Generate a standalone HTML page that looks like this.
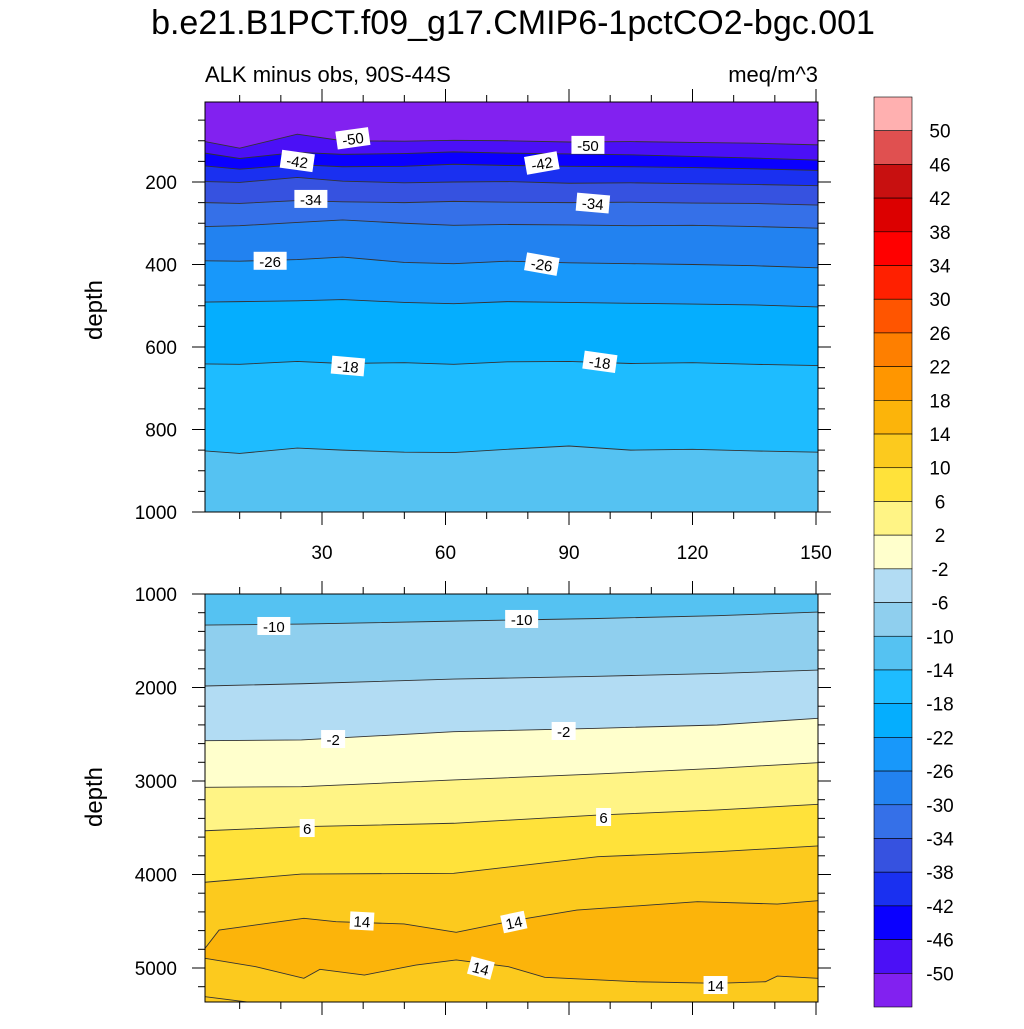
<!DOCTYPE html>
<html><head><meta charset="utf-8"><style>
html,body{margin:0;padding:0;background:#fff;}
svg text{font-family:"Liberation Sans",sans-serif;}
</style></head><body>
<svg id="chart" width="1024" height="1024" viewBox="0 0 1024 1024" xmlns="http://www.w3.org/2000/svg">
<text x="513" y="34" text-anchor="middle" font-size="34">b.e21.B1PCT.f09_g17.CMIP6-1pctCO2-bgc.001</text>
<text x="205" y="82" font-size="22">ALK minus obs, 90S-44S</text>
<text x="818" y="82" font-size="22" text-anchor="end">meq/m^3</text>
<text transform="translate(102,310) rotate(-90)" text-anchor="middle" font-size="24">depth</text>
<text transform="translate(102,797) rotate(-90)" text-anchor="middle" font-size="24">depth</text>
<g id="top"></g>
<g id="bot"></g>
<g id="cbar"></g>
</svg>
<script>
// ---- data ----
const levels = [-50,-46,-42,-38,-34,-30,-26,-22,-18,-14,-10,-6,-2,2,6,10,14,18,22,26,30,34,38,42,46,50];
const colors = ["#8221f0","#4b10f6","#0a00ff","#1a30f0","#3652e0","#3570e8","#2282f0","#1898fa","#05aefe","#1ebcff","#55c2f2","#8fcfee","#b2dcf3","#ffffcc","#fff485","#ffe23a","#fcca1e","#fcb40a","#ff9600","#fe7f00","#ff5500","#ff2000","#ff0000","#dc0000","#c81010","#e05050","#ffb0b0"];
const xTicks = [30,60,90,120,150];
const topYTicks = [200,400,600,800,1000];
const botYTicks = [1000,2000,3000,4000,5000];
// top panel contour lines: years and depths
const topYears = [1.5,10,24,35,50,62,75,90,105,120,135,150.5];
const topLines = [
 {lev:-50, d:[102,118,84,100,101,99,100,103,102,104,106,110]},
 {lev:-46, d:[130,143,128,133,131,127,130,132,134,138,142,147]},
 {lev:-42, d:[161,169,158,163,162,157,160,162,163,165,168,172]},
 {lev:-38, d:[199,201,189,198,202,200,199,203,202,204,206,209]},
 {lev:-34, d:[250,252,245,248,250,247,249,250,249,251,252,256]},
 {lev:-30, d:[308,306,298,292,300,305,303,304,306,305,308,312]},
 {lev:-26, d:[391,392,388,382,395,398,392,396,398,400,403,408]},
 {lev:-22, d:[491,490,488,485,492,495,490,492,494,496,498,503]},
 {lev:-18, d:[641,642,635,640,638,642,636,635,640,638,642,645]},
 {lev:-14, d:[852,858,845,850,855,856,848,840,850,848,852,855]}
];
// bottom panel contour lines
const botYears = [1.5,25,62,97,126,150.5];
const botLines = [
 {lev:-10, d:[1332,1322,1290,1262,1232,1193]},
 {lev:-6, d:[1984,1960,1910,1880,1850,1813]},
 {lev:-2, d:[2569,2561,2473,2436,2401,2329]},
 {lev:2, d:[3067,3061,2989,2925,2864,2804]},
 {lev:6, d:[3532,3489,3452,3364,3310,3249]},
 {lev:10, d:[4083,3995,3987,3810,3756,3695]}
];
const blobUpYears = [1.5,5,25.6,33.4,49.9,62.6,77.3,91.9,121.2,140.6,150.5];
const blobUpDepth = [4790,4594,4469,4505,4529,4618,4487,4380,4291,4316,4280];
const blobLoYears = [1.5,13.9,25.6,29.5,40.3,52.8,62.6,75.3,84.1,106.5,126,137.7,140.6,150.5];
const blobLoDepth = [4896,4986,5110,5014,5075,4968,4914,4986,5100,5147,5164,5147,5086,5110];
const tailYears = [1.5,13.9];
const tailDepth = [5307,5375];
const topLabels = [[37.5,94,"-50",-8],[94.6,110,"-50",0],[24,149,"-42",8],[83.4,154,"-42",-10],[27.3,241,"-34",0],[95.8,251,"-34",5],[17.4,391,"-26",0],[83.4,399,"-26",10],[36.3,646,"-18",5],[97.5,636,"-18",8]];
const botLabels = [[18.3,1342,"-10",0],[78.5,1267,"-10",0],[32.7,2551,"-2",0],[88.7,2465,"-2",0],[26.4,3503,"6",0],[98.4,3385,"6",0],[39.7,4497,"14",3],[76.6,4508,"14",-12],[68.6,5000,"14",15],[125.6,5182,"14",0]];

// ---- axes ----
const NS="http://www.w3.org/2000/svg";
const X0=205,X1=818;
const xs = yr => 322 + (yr-30)*(816-322)/120;
const ysTop = d => 182 + (d-200)*(512-182)/800;
const ysBot = d => 594 + (d-1000)*(968-594)/4000;
function mk(tag,attrs,parent){const e=document.createElementNS(NS,tag);for(const k in attrs)e.setAttribute(k,attrs[k]);parent.appendChild(e);return e;}
function colorFor(lev){return colors[levels.indexOf(lev)+1];}
function linePts(years,d,ys){return years.map((y,i)=>[Math.max(X0,Math.min(X1,xs(y))),ys(d[i])]);}

function panel(g,Ytop,Ybot,ys,lines,years,baseColor){
  const clipId=g.id+"-clip";
  const cp=mk("clipPath",{id:clipId},g);mk("rect",{x:X0,y:Ytop,width:X1-X0,height:Ybot-Ytop},cp);
  const fills=mk("g",{"clip-path":"url(#"+clipId+")"},g);
  
  
  const bg=mk("rect",{x:X0,y:Ytop,width:X1-X0,height:Ybot-Ytop,fill:baseColor},fills);
  
  
  lines.forEach(L=>{
    const p=linePts(years,L.d,ys);
    const pts=[[X0,p[0][1]],...p,[X1,p[p.length-1][1]],[X1,Ybot+5],[X0,Ybot+5]];
    const poly=mk("polygon",{points:pts.map(q=>q.join(",")).join(" "),fill:colorFor(L.lev)},fills);
    
    
  });
  return {fills,clipId};
}
function drawLine(parent,years,d,ys){
  const p=linePts(years,d,ys);
  const l=mk("polyline",{points:p.map(q=>q.join(",")).join(" "),fill:"none",stroke:"#333","stroke-width":"0.9"},parent);
  
  
}
function drawLabels(parent,labels,ys){
  labels.forEach(L=>{
    const g=mk("g",{transform:`translate(${xs(L[0])},${ys(L[1])}) rotate(${L[3]})`},parent);
    
    
    const w=L[2].length*9+6;
    mk("rect",{x:-w/2,y:-9,width:w,height:18,fill:"#fff"},g);
    const t=mk("text",{x:0,y:6,"text-anchor":"middle","font-size":"15"},g);t.textContent=L[2];
  });
}
function frame(g,Ytop,Ybot,ys,yTicks,minorStep,dmin,dmax,showXLabels){
  mk("rect",{x:X0,y:Ytop,width:X1-X0,height:Ybot-Ytop,fill:"none",stroke:"#000","stroke-width":"1"},g);
  for(let v=10;v<=150;v+=10){
    const x=xs(v),maj=v%30===0,len=maj?13:7;
    mk("line",{x1:x,x2:x,y1:Ytop,y2:Ytop-len,stroke:"#000"},g);
    mk("line",{x1:x,x2:x,y1:Ybot,y2:Ybot+len,stroke:"#000"},g);
  }
  for(let d=Math.ceil(dmin/minorStep)*minorStep;d<=dmax;d+=minorStep){
    const y=ys(d);if(y<Ytop-0.5||y>Ybot+0.5)continue;
    const maj=yTicks.includes(d),len=maj?13:7;
    mk("line",{x1:X0,x2:X0-len,y1:y,y2:y,stroke:"#000"},g);
    mk("line",{x1:X1,x2:X1+len,y1:y,y2:y,stroke:"#000"},g);
  }
  yTicks.forEach(d=>{const t=mk("text",{x:X0-28,y:ys(d)+7,"text-anchor":"end","font-size":"19"},g);t.textContent=d;
    });
  if(showXLabels) xTicks.forEach(v=>{const t=mk("text",{x:xs(v),y:559,"text-anchor":"middle","font-size":"19"},g);t.textContent=v;
    });
}
// top panel
const gt=document.getElementById("top");
const tp=panel(gt,102,512,ysTop,topLines,topYears,colors[0]);
topLines.forEach(L=>drawLine(tp.fills,topYears,L.d,ysTop));
drawLabels(tp.fills,topLabels,ysTop);
frame(gt,102,512,ysTop,topYTicks,50,0,1000,true);
// bottom panel
const gb=document.getElementById("bot");
const bp=panel(gb,594,1002,ysBot,botLines,botYears,colorFor(-14));
const bu=linePts(blobUpYears,blobUpDepth,ysBot), bl=linePts(blobLoYears,blobLoDepth,ysBot);
const blob=mk("polygon",{points:[...bu,[X1,bu[bu.length-1][1]],[X1,bl[bl.length-1][1]],...bl.slice().reverse()].map(q=>q.join(",")).join(" "),fill:colorFor(14)},bp.fills);


botLines.forEach(L=>drawLine(bp.fills,botYears,L.d,ysBot));
drawLine(bp.fills,blobUpYears,blobUpDepth,ysBot);
drawLine(bp.fills,blobLoYears,blobLoDepth,ysBot);
drawLine(bp.fills,tailYears,tailDepth,ysBot);
drawLabels(bp.fills,botLabels,ysBot);
frame(gb,594,1002,ysBot,botYTicks,200,1000,5400,false);
// colorbar
const gc=document.getElementById("cbar");
const CB0=97,CB1=1007,n=colors.length,h=(CB1-CB0)/n;
colors.slice().reverse().forEach((c,i)=>{
  const r=mk("rect",{x:874,y:CB0+i*h,width:38,height:h,fill:c,stroke:"#000","stroke-width":"0.6"},gc);
  
  
});
levels.slice().reverse().forEach((v,i)=>{
  const t=mk("text",{x:940,y:CB0+(i+1)*h+7,"text-anchor":"middle","font-size":"19"},gc);t.textContent=v;
  
  
});
</script>
</body></html>
